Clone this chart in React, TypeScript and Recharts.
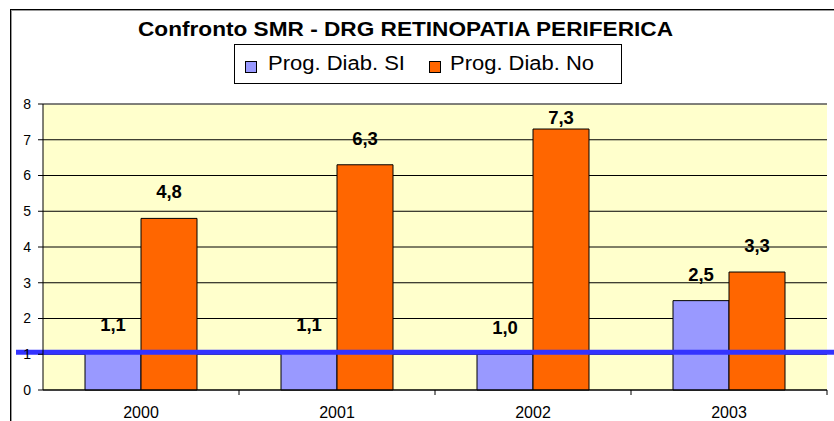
import { BarChart, Bar, XAxis, YAxis, CartesianGrid, ReferenceLine, Legend, LabelList } from 'recharts'

const years = ['2000', '2001', '2002', '2003']
const progDiabSi = [1.1, 1.1, 1.0, 2.5]
const progDiabNo = [4.8, 6.3, 7.3, 3.3]
const yTicks = [0, 1, 2, 3, 4, 5, 6, 7, 8]
const threshold = 1
const seriesOrder = ['si', 'no']

const data = years.map((year, i) => ({ year, si: progDiabSi[i], no: progDiabNo[i] }))

const FONT = '"Liberation Sans", Arial, sans-serif'
const PLOT_TOP = 104

function formatComma(v: number): string {
  return v.toFixed(1).replace('.', ',')
}

// value labels float above the bar, but are kept inside the plot area (Excel style)
function ValueLabel(props: any) {
  const { x, y, width, value } = props
  const baseline = Math.max(y - 20, PLOT_TOP + 20)
  return (
    <text
      x={x + width / 2}
      y={baseline}
      textAnchor="middle"
      fontFamily={FONT}
      fontWeight="bold"
      fontSize={18.5}
      fill="#000"
    >
      {formatComma(value)}
    </text>
  )
}

// category label plus a small tick mark on the right edge of each category
function YearTick(props: any) {
  const { x, y, payload, width, visibleTicksCount } = props
  const band = width / (visibleTicksCount || 1)
  return (
    <g>
      <line x1={x + band / 2} y1={390} x2={x + band / 2} y2={395} stroke="#000" />
      <text x={x} y={y} dy="0.71em" textAnchor="middle" fontFamily={FONT} fontSize={16} fill="#000">
        {payload.value}
      </text>
    </g>
  )
}

function TitleAndLegend({ payload }: any) {
  const items = seriesOrder
    .map((k) => (payload || []).find((p: any) => p.dataKey === k))
    .filter(Boolean)
  const itemX = [245, 429]
  const textX = [268, 450]
  const textW = [137, 144]
  return (
    <div style={{ position: 'absolute', left: 0, top: 0 }}>
      <svg width={834} height={100} style={{ position: 'absolute', left: 0, top: 0 }}>
        <text
          x={405.5}
          y={36}
          textAnchor="middle"
          fontFamily={FONT}
          fontWeight="bold"
          fontSize={20}
          textLength={535}
          lengthAdjust="spacingAndGlyphs"
        >
          Confronto SMR - DRG RETINOPATIA PERIFERICA
        </text>
        <rect x={234.5} y={44.5} width={387} height={39} fill="#fff" stroke="#000" />
        {items.map((item: any, i: number) => (
          <g key={item.value}>
            <rect x={itemX[i] + 0.5} y={61.5} width={11} height={11} fill={item.color} stroke="#000" />
            <text
              x={textX[i]}
              y={70}
              fontFamily={FONT}
              fontSize={20}
              textLength={textW[i]}
              lengthAdjust="spacingAndGlyphs"
            >
              {item.value}
            </text>
          </g>
        ))}
      </svg>
    </div>
  )
}

export default function App() {
  return (
    <div
      style={{
        position: 'fixed',
        left: 0,
        top: 0,
        width: 834,
        height: 421,
        overflow: 'hidden',
        background: '#fff',
        fontFamily: FONT,
      }}
    >
      <div
        style={{
          position: 'absolute',
          left: 10,
          top: 9,
          width: 900,
          height: 500,
          borderLeft: '1px solid #000',
          borderTop: '1px solid #000',
          boxShadow: 'inset 1px 1px 0 #999',
        }}
      />
      <div style={{ position: 'absolute', left: 0, top: 0 }}>
        <BarChart
          width={834}
          height={421}
          data={data}
          margin={{ top: PLOT_TOP, right: 7, bottom: 0, left: 0 }}
          barCategoryGap={42}
          barGap={0}
        >
          <CartesianGrid vertical={false} stroke="#000" fill="#FFFFCC" />
          <XAxis
            dataKey="year"
            height={31}
            stroke="#000"
            tickLine={false}
            tickMargin={11}
            tick={<YearTick />}
          />
          <YAxis
            domain={[0, 8]}
            ticks={yTicks}
            width={43}
            stroke="#000"
            tickSize={5}
            tickMargin={7}
            interval={0}
            tick={{ fill: '#000', fontSize: 14, fontFamily: FONT }}
          />
          <YAxis
            yAxisId="frame"
            orientation="right"
            domain={[0, 8]}
            width={0}
            tick={false}
            tickLine={false}
            axisLine={{ stroke: '#808080' }}
          />
          <ReferenceLine y={8} stroke="#808080" />
          <Legend content={<TitleAndLegend />} wrapperStyle={{ left: 0, top: 0 }} />
          <Bar dataKey="si" name="Prog. Diab. SI" fill="#9999FF" stroke="#000" isAnimationActive={false}>
            <LabelList dataKey="si" content={<ValueLabel />} />
          </Bar>
          <Bar dataKey="no" name="Prog. Diab. No" fill="#FF6600" stroke="#000" isAnimationActive={false}>
            <LabelList dataKey="no" content={<ValueLabel />} />
          </Bar>
          <ReferenceLine
            y={threshold}
            stroke="#3333FF"
            strokeWidth={5}
            shape={(p: any) => (
              <line x1={p.x1 - 27} y1={p.y1 - 2} x2={p.x2 + 10} y2={p.y2 - 2} stroke="#3333FF" strokeWidth={5} />
            )}
          />
        </BarChart>
      </div>
    </div>
  )
}
